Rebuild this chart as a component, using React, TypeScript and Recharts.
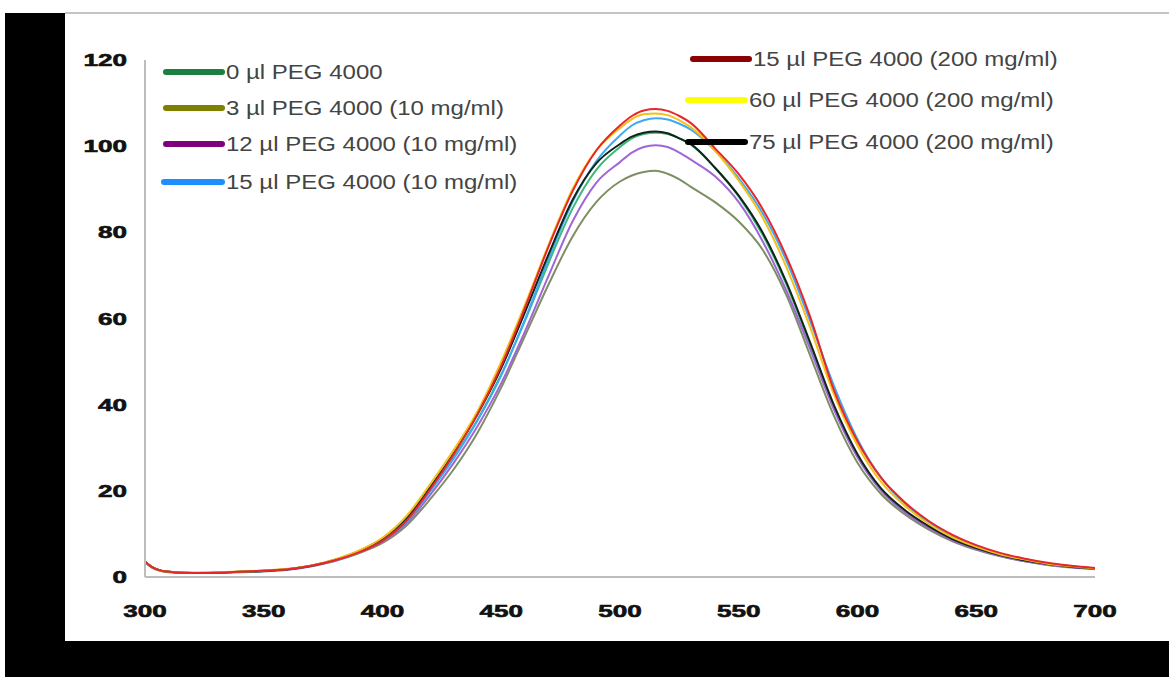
import React from 'react';
import { LineChart, Line, XAxis, YAxis } from 'recharts';

const wavelengths = [300, 303, 306, 310, 320, 330, 340, 350, 360, 370, 380, 390, 400, 410, 420, 430, 440, 450, 460, 470, 480, 490, 500, 505, 510, 515, 520, 525, 530, 540, 550, 560, 570, 580, 590, 600, 610, 620, 630, 640, 650, 660, 670, 680, 690, 700];

const peg0 = [3.5, 2.2, 1.6, 1.2, 0.9, 1.0, 1.2, 1.4, 1.8, 2.6, 3.9, 5.8, 8.6, 13.1, 20.0, 27.8, 36.5, 47.0, 59.5, 73.0, 85.5, 94.5, 99.8, 101.8, 102.8, 103.1, 102.8, 101.8, 100.3, 95.0, 88.3, 79.5, 68.0, 54.0, 39.5, 28.0, 20.2, 15.2, 11.6, 8.7, 6.6, 5.0, 3.8, 2.9, 2.3, 1.9];
const peg3 = [3.4, 2.2, 1.5, 1.1, 0.9, 1.0, 1.1, 1.3, 1.7, 2.5, 3.7, 5.5, 7.9, 11.9, 18.0, 25.0, 33.5, 44.0, 56.0, 68.0, 79.0, 87.0, 91.8, 93.2, 94.0, 94.3, 93.6, 92.3, 90.5, 87.0, 82.5, 76.0, 65.5, 51.5, 37.5, 26.5, 19.2, 14.5, 11.0, 8.3, 6.3, 4.8, 3.7, 2.8, 2.2, 1.8];
const peg12 = [3.5, 2.3, 1.6, 1.2, 0.9, 1.0, 1.2, 1.4, 1.7, 2.5, 3.8, 5.7, 8.2, 12.4, 19.0, 26.5, 35.0, 45.0, 57.0, 70.0, 82.5, 91.5, 96.3, 98.5, 99.8, 100.2, 99.8, 98.5, 96.8, 93.0, 87.0, 78.0, 66.5, 53.0, 39.0, 27.8, 20.0, 15.0, 11.4, 8.5, 6.5, 4.9, 3.7, 2.9, 2.3, 1.9];
const peg15low = [3.6, 2.3, 1.6, 1.2, 1.0, 1.0, 1.2, 1.4, 1.8, 2.6, 3.9, 5.8, 8.4, 12.8, 19.8, 27.5, 36.3, 46.8, 59.8, 74.0, 87.0, 96.5, 102.5, 104.8, 106.0, 106.5, 106.2, 105.2, 103.8, 99.0, 92.5, 84.5, 73.5, 59.5, 44.5, 32.0, 23.0, 17.0, 12.7, 9.5, 7.2, 5.4, 4.2, 3.2, 2.5, 2.0];
const peg15high = [3.6, 2.3, 1.6, 1.2, 0.9, 1.0, 1.2, 1.5, 1.8, 2.6, 3.9, 5.7, 8.4, 13.0, 20.3, 28.5, 37.8, 49.0, 62.5, 76.8, 89.5, 99.0, 104.8, 107.0, 108.3, 108.6, 108.2, 107.0, 105.3, 99.5, 93.5, 85.5, 74.5, 60.5, 43.5, 31.5, 23.0, 17.3, 13.0, 9.8, 7.4, 5.6, 4.3, 3.3, 2.6, 2.1];
const peg60 = [3.6, 2.3, 1.6, 1.2, 1.0, 1.1, 1.3, 1.5, 1.9, 2.7, 4.1, 6.1, 9.1, 14.1, 21.5, 29.5, 38.5, 50.0, 63.2, 77.2, 90.0, 99.0, 104.2, 106.3, 107.4, 107.6, 107.2, 106.0, 104.3, 99.0, 92.0, 83.5, 72.0, 58.0, 42.5, 30.5, 22.0, 16.5, 12.3, 9.2, 7.0, 5.3, 4.1, 3.1, 2.5, 2.0];
const peg75 = [3.6, 2.3, 1.6, 1.2, 0.9, 1.0, 1.2, 1.4, 1.8, 2.6, 4.0, 6.0, 8.9, 13.6, 20.8, 28.8, 37.8, 48.5, 61.5, 75.0, 87.5, 96.0, 100.5, 102.2, 103.1, 103.4, 103.0, 101.8, 100.4, 95.0, 88.5, 80.0, 68.5, 54.5, 40.0, 28.5, 20.5, 15.5, 11.8, 8.8, 6.7, 5.1, 3.9, 3.0, 2.4, 2.0];

const xTicks = [300, 350, 400, 450, 500, 550, 600, 650, 700];
const yTicks = [0, 20, 40, 60, 80, 100, 120];

const seriesList = [
  { key: 's0', name: '0 µl PEG 4000', values: peg0, stroke: '#3cb878', legendColor: '#1b7f3f' },
  { key: 's3', name: '3 µl PEG 4000 (10 mg/ml)', values: peg3, stroke: '#7d8f63', legendColor: '#7f7f00' },
  { key: 's12', name: '12 µl PEG 4000 (10 mg/ml)', values: peg12, stroke: '#a066d6', legendColor: '#7f007f' },
  { key: 's15a', name: '15 µl PEG 4000 (10 mg/ml)', values: peg15low, stroke: '#3fa9f5', legendColor: '#1e8fff' },
  { key: 's75', name: '75 µl PEG 4000 (200 mg/ml)', values: peg75, stroke: '#102418', legendColor: '#000000' },
  { key: 's60', name: '60 µl PEG 4000 (200 mg/ml)', values: peg60, stroke: '#f2c21a', legendColor: '#ffff00' },
  { key: 's15b', name: '15 µl PEG 4000 (200 mg/ml)', values: peg15high, stroke: '#e8262a', legendColor: '#8b0000' },
];

const legendLayout = [
  { key: 's0', x: 163, y: 72, len: 62 },
  { key: 's3', x: 163, y: 108, len: 62 },
  { key: 's12', x: 163, y: 144, len: 62 },
  { key: 's15a', x: 161, y: 182, len: 64 },
  { key: 's15b', x: 690, y: 59, len: 62 },
  { key: 's60', x: 685, y: 100, len: 63 },
  { key: 's75', x: 685, y: 142, len: 63 },
];

const data = wavelengths.map((w, i) => {
  const row: Record<string, number> = { nm: w };
  seriesList.forEach((s) => {
    row[s.key] = s.values[i];
  });
  return row;
});

const XTick = (props: any) => {
  const { x, y, payload } = props;
  const label = String(payload.value);
  return (
    <text
      x={x}
      y={y + 40}
      textAnchor="middle"
      fontFamily="'Liberation Sans', Arial, sans-serif"
      fontWeight={900}
      fontSize={17}
      fill="#111"
      stroke="#111"
      strokeWidth={0.6}
      textLength={label.length * 14.5}
      lengthAdjust="spacingAndGlyphs"
    >
      {label}
    </text>
  );
};

const YTick = (props: any) => {
  const { x, y, payload } = props;
  const label = String(payload.value);
  return (
    <text
      x={x - 18}
      y={y + 6}
      textAnchor="end"
      fontFamily="'Liberation Sans', Arial, sans-serif"
      fontWeight={900}
      fontSize={17}
      fill="#111"
      stroke="#111"
      strokeWidth={0.6}
      textLength={label.length * 14.5}
      lengthAdjust="spacingAndGlyphs"
    >
      {label}
    </text>
  );
};

export default function App() {
  return (
    <div
      style={{
        position: 'fixed',
        left: 0,
        top: 0,
        width: 1169,
        height: 677,
        background: '#ffffff',
        overflow: 'hidden',
      }}
    >
      <div style={{ position: 'absolute', left: 0, top: 0 }}>
        <LineChart width={1169} height={677} data={data} margin={{ top: 60, right: 74, bottom: 0, left: 85 }}>
          <XAxis
            dataKey="nm"
            type="number"
            domain={[300, 700]}
            ticks={xTicks}
            allowDataOverflow
            axisLine={{ stroke: '#bdbdbd', strokeWidth: 2 }}
            tickLine={false}
            tickSize={0}
            tickMargin={0}
            tick={<XTick />}
            height={100}
            interval={0}
          />
          <YAxis
            type="number"
            domain={[0, 120]}
            ticks={yTicks}
            allowDataOverflow
            axisLine={{ stroke: '#bdbdbd', strokeWidth: 2 }}
            tickLine={false}
            tickSize={0}
            tickMargin={0}
            tick={<YTick />}
            width={60}
            interval={0}
          />
          {seriesList.map((s) => (
            <Line
              key={s.key}
              dataKey={s.key}
              name={s.name}
              type="monotone"
              stroke={s.stroke}
              strokeWidth={2}
              dot={false}
              activeDot={false}
              isAnimationActive={false}
            />
          ))}
        </LineChart>
      </div>
      <div style={{ position: 'absolute', left: 65, top: 12, width: 1104, height: 2, background: '#c4c4c4' }} />
      <div style={{ position: 'absolute', left: 5, top: 13, width: 60, height: 664, background: '#000' }} />
      <div style={{ position: 'absolute', left: 5, top: 641, width: 1164, height: 36, background: '#000' }} />
      {legendLayout.map((l) => {
        const s = seriesList.find((q) => q.key === l.key)!;
        return (
          <div key={l.key} style={{ position: 'absolute', left: l.x, top: l.y - 15, height: 30 }}>
            <div
              style={{
                position: 'absolute',
                left: 0,
                top: 12,
                width: l.len,
                height: 6,
                borderRadius: 3,
                background: s.legendColor,
              }}
            />
            <div
              style={{
                position: 'absolute',
                left: l.len + 1,
                top: 2,
                whiteSpace: 'nowrap',
                fontFamily: "'Liberation Sans', Arial, sans-serif",
                fontSize: 20,
                lineHeight: '26px',
                color: '#444',
                transform: 'scaleX(1.2)',
                transformOrigin: 'left center',
              }}
            >
              {s.name}
            </div>
          </div>
        );
      })}
    </div>
  );
}
